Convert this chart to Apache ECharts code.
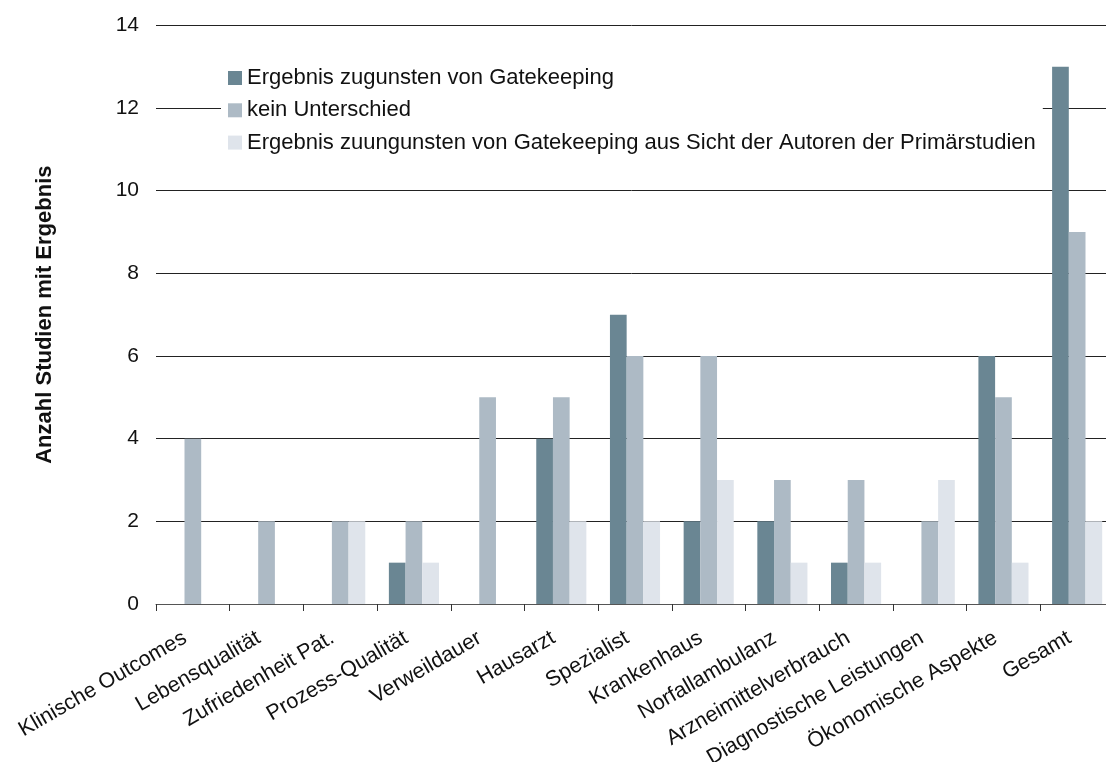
<!DOCTYPE html>
<html>
<head>
<meta charset="utf-8">
<script src="https://cdn.jsdelivr.net/npm/echarts@6/dist/echarts.min.js"></script>
<style>
html,body{margin:0;padding:0;background:#fff;}
#chart{width:1106px;height:762px;}
</style>
</head>
<body>
<div id="chart"></div>
<script>
const categories = ['Klinische Outcomes','Lebensqualität','Zufriedenheit Pat.','Prozess-Qualität','Verweildauer','Hausarzt','Spezialist','Krankenhaus','Norfallambulanz','Arzneimittelverbrauch','Diagnostische Leistungen','Ökonomische Aspekte','Gesamt'];
const seriesNames = ['Ergebnis zugunsten von Gatekeeping','kein Unterschied','Ergebnis zuungunsten von Gatekeeping aus Sicht der Autoren der Primärstudien'];
const zugunsten = [0,0,0,1,0,4,7,2,2,1,0,6,13];
const keinUnterschied = [4,2,2,2,5,5,6,6,3,3,2,5,9];
const zuungunsten = [0,0,2,1,0,2,2,3,1,1,3,1,2];
const yTicks = [0,2,4,6,8,10,12,14];
const colors = ['#6a8693','#adbac5','#dfe4eb'];

const chart = echarts.init(document.getElementById('chart'));
const font = '"Liberation Sans", Arial, sans-serif';
const dataSets = [zugunsten, keinUnterschied, zuungunsten];
chart.setOption({
  animation: false,
  backgroundColor: '#fff',
  textStyle: {fontFamily: font},
  grid: {left: 156, right: -8, top: 25.3, bottom: 158, containLabel: false, outerBoundsMode: 'none'},
  legend: {
    orient: 'vertical',
    left: 221, top: 61,
    padding: [6, 7, 6, 7],
    backgroundColor: '#fff',
    itemWidth: 14, itemHeight: 14, itemGap: 10.3,
    icon: 'rect',
    textStyle: {fontSize: 22, color: '#111', fontFamily: font, lineHeight: 21},
    data: seriesNames
  },
  xAxis: {
    type: 'category',
    data: categories,
    axisLine: {lineStyle: {color: '#555', width: 1}},
    axisTick: {show: true, length: 7, lineStyle: {color: '#333'}},
    axisLabel: {rotate: 30, interval: 0, fontSize: 21.5, color: '#111', margin: 28, padding: [0, 9, 0, 0], fontFamily: font}
  },
  yAxis: {
    type: 'value',
    min: yTicks[0], max: yTicks[yTicks.length-1], interval: 2,
    name: 'Anzahl Studien mit Ergebnis',
    nameLocation: 'middle', nameRotate: 90, nameGap: 100,
    nameTextStyle: {fontSize: 22, fontWeight: 'bold', color: '#111', fontFamily: font},
    axisLine: {show: false}, axisTick: {show: false},
    axisLabel: {fontSize: 21, color: '#111', margin: 17, fontFamily: font},
    splitLine: {lineStyle: {color: '#222', width: 1}}
  },
  series: dataSets.map((d, i) => ({
    name: seriesNames[i],
    type: 'bar',
    data: d,
    barWidth: 16.7,
    barGap: '0%',
    itemStyle: {color: colors[i]}
  }))
});
</script>
</body>
</html>
